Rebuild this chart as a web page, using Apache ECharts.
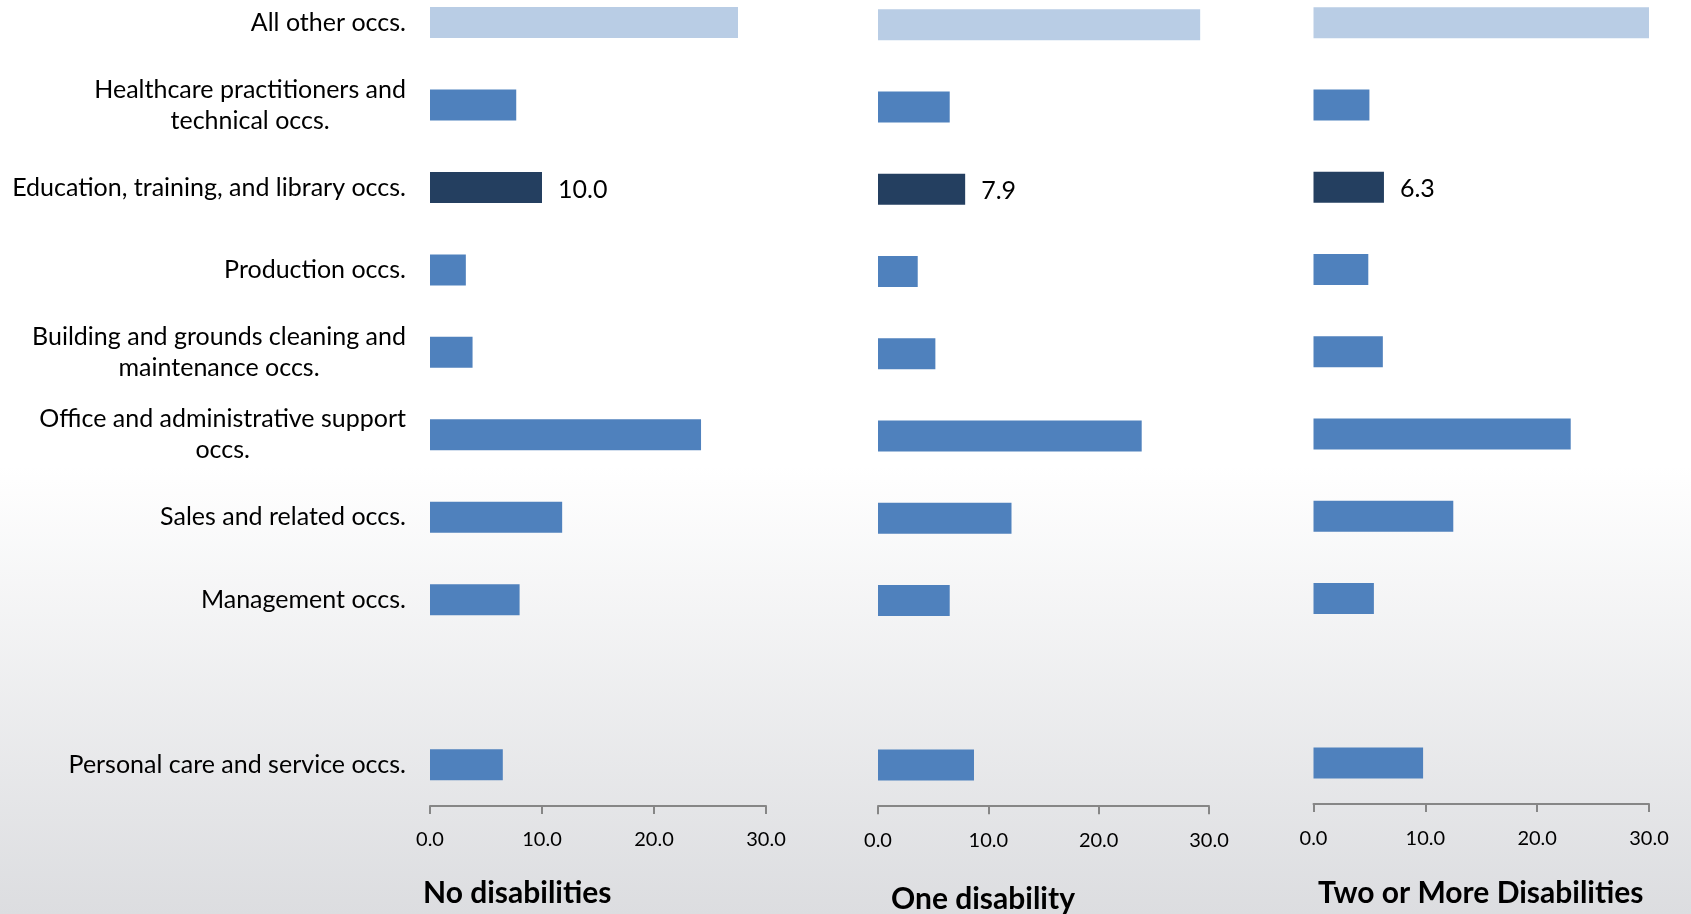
<!DOCTYPE html>
<html>
<head>
<meta charset="utf-8">
<script src="https://cdn.jsdelivr.net/npm/echarts@6/dist/echarts.min.js"></script>
<style>
  html, body { margin: 0; padding: 0; overflow: hidden; width: 1691px; height: 914px; }
  /* the plot starts above the visible edge, so the first row sits close to the top */
  #chart { position: absolute; left: 0; top: -20px; width: 1691px; height: 934px; }
</style>
</head>
<body>
<div id="chart"></div>
<script>
// Occupation groups, listed top to bottom ('' is an empty spacer row)
const categories = [
  'All other occs.',
  'Healthcare practitioners and\ntechnical occs.',
  'Education, training, and library occs.',
  'Production occs.',
  'Building and grounds cleaning and\nmaintenance occs.',
  'Office and administrative support\noccs.',
  'Sales and related occs.',
  'Management occs.',
  '',
  'Personal care and service occs.'
];

// Percent of employed, by disability status
const noDisabilities  = [27.5, 7.7, 10.0, 3.2, 3.8, 24.2, 11.8, 8.0, null, 6.5];
const oneDisability   = [29.2, 6.5, 7.9, 3.6, 5.2, 23.9, 12.1, 6.5, null, 8.7];
const twoOrMore       = [30.0, 5.0, 6.3, 4.9, 6.2, 23.0, 12.5, 5.4, null, 9.8];

const panelTitles = ['No disabilities', 'One disability', 'Two or More Disabilities'];
const tickValues = [0, 10, 20, 30];

const FONT = 'Lato, "Noto Sans", sans-serif';
const HIGHLIGHT = 'Education, training, and library occs.';
const OTHER = 'All other occs.';
const SHIFT = 20; // matches the container's negative top offset

function barItems(values) {
  return values.map((v, i) => {
    const name = categories[i];
    let color = '#4F81BD';
    if (name === OTHER) color = '#B9CDE5';
    if (name === HIGHLIGHT) color = '#243F60';
    return {
      value: v,
      itemStyle: { color: color },
      label: { show: name === HIGHLIGHT }
    };
  });
}

// Each line of a wrapped label is centred inside the right-aligned label block
function centredLines(text) {
  if (!text) return '';
  return text.split('\n').map(line => '{c|' + line + '}').join('\n');
}

const panels = [
  { left: 430, width: 336, top: -18.7, height: 824.6, data: noDisabilities },
  { left: 878, width: 331, top: -16.3, height: 822.5, data: oneDisability },
  { left: 1313.5, width: 335.5, top: -18.5, height: 822.6, data: twoOrMore }
];

const chart = echarts.init(document.getElementById('chart'), null, { renderer: 'canvas' });

const option = {
  animation: false,
  backgroundColor: {
    type: 'linear', x: 0, y: 0, x2: 0, y2: 1,
    colorStops: [
      { offset: 0, color: '#FFFFFF' },
      { offset: 0.52, color: '#FFFFFF' },
      { offset: 1, color: '#DCDDE0' }
    ]
  },
  title: [
    { text: panelTitles[0], left: 423, top: 878 + SHIFT },
    { text: panelTitles[1], left: 891, top: 884 + SHIFT },
    { text: panelTitles[2], left: 1318, top: 878 + SHIFT }
  ].map(t => Object.assign(t, {
    padding: 0,
    textStyle: { fontFamily: FONT, fontSize: 30, fontWeight: 'bold', color: '#000000' }
  })),
  grid: panels.map(p => ({ left: p.left, width: p.width, top: p.top + SHIFT, height: p.height, containLabel: false })),
  xAxis: panels.map((p, i) => ({
    type: 'value',
    gridIndex: i,
    min: 0,
    max: 30,
    interval: 10,
    splitLine: { show: false },
    axisLine: { show: true, lineStyle: { color: '#868686', width: 2 } },
    axisTick: { show: true, length: 8, lineStyle: { color: '#868686', width: 2 } },
    axisLabel: {
      margin: 24,
      fontFamily: FONT,
      fontSize: 20,
      color: '#000000',
      formatter: v => tickValues.includes(v) ? v.toFixed(1) : ''
    }
  })),
  yAxis: panels.map((p, i) => ({
    type: 'category',
    gridIndex: i,
    data: categories,
    inverse: true,
    axisLine: { show: false },
    axisTick: { show: false },
    axisLabel: {
      show: i === 0,
      margin: 24,
      fontFamily: FONT,
      fontSize: 25,
      lineHeight: 31,
      color: '#000000',
      align: 'right',
      formatter: centredLines,
      rich: {
        c: { align: 'center', fontFamily: FONT, fontSize: 25, lineHeight: 31, color: '#000000' }
      }
    }
  })),
  series: panels.map((p, i) => ({
    type: 'bar',
    xAxisIndex: i,
    yAxisIndex: i,
    barWidth: 31,
    data: barItems(p.data),
    label: {
      position: 'right',
      distance: 16,
      offset: [0, 2],
      fontFamily: FONT,
      fontSize: 25,
      color: '#000000',
      formatter: d => d.value.toFixed(1)
    }
  }))
};

chart.setOption(option);
</script>
</body>
</html>
